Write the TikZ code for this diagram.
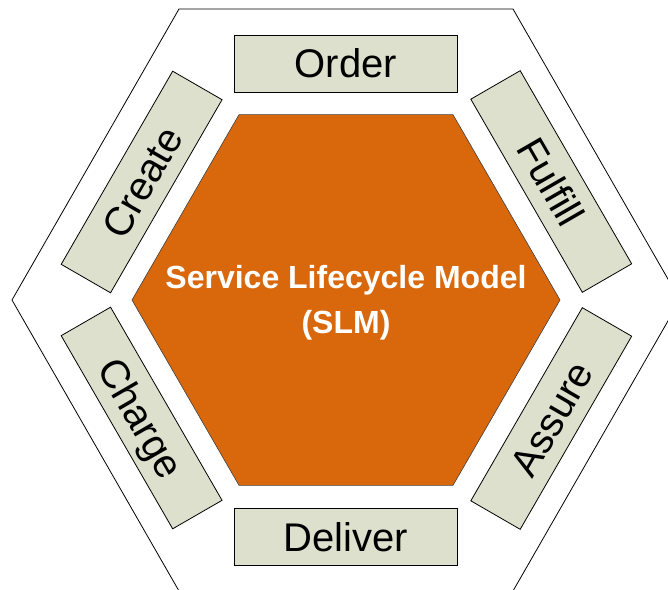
\documentclass[tikz,border=0pt]{standalone}
\usepackage{fontspec}
\setmainfont{Liberation Sans}
\definecolor{coreorange}{RGB}{217,104,12}
\definecolor{boxfill}{RGB}{221,224,204}
\begin{document}
\begin{tikzpicture}[x=1pt,y=1pt,
  labelbox/.style={draw=black, line width=0.8pt, fill=boxfill,
    minimum width=223pt, minimum height=57pt, inner sep=0pt,
    text height=29pt, text depth=0pt,
    font=\fontsize{40}{48}\selectfont},
  outerhex/.style={draw=black, line width=0.8pt},
  corehex/.style={fill=coreorange, draw=black!75, line width=0.6pt},
  coretext/.style={text=white, align=center,
    font=\fontsize{32}{45}\selectfont\bfseries}]
  \useasboundingbox (-346,-289) rectangle (322,300);
  \clip (-346,-289) rectangle (322,300);

  % outer frame
  \draw[outerhex] (334,0) -- (167,291) -- (-167,291) -- (-334,0)
    -- (-167,-291) -- (167,-291) -- cycle;

  % central hexagon
  \path[corehex] (0:214) -- (60:214) -- (120:214) -- (180:214)
    -- (240:214) -- (300:214) -- cycle;
  \node[coretext] (core) at (0,-2.6) {Service Lifecycle Model\\(SLM)};

  % lifecycle stages around the core
  \node[labelbox]              (order)   at (90:236.5)  {Order};
  \node[labelbox, rotate=-60]  (fulfill) at (30:237)    {Fulfill};
  \node[labelbox, rotate=60]   (assure)  at (-30:237)   {Assure};
  \node[labelbox]              (deliver) at (-90:236.5) {Deliver};
  \node[labelbox, rotate=-60]  (charge)  at (-150:236)  {Charge};
  \node[labelbox, rotate=60]   (create)  at (150:236)   {Create};
\end{tikzpicture}
\end{document}
